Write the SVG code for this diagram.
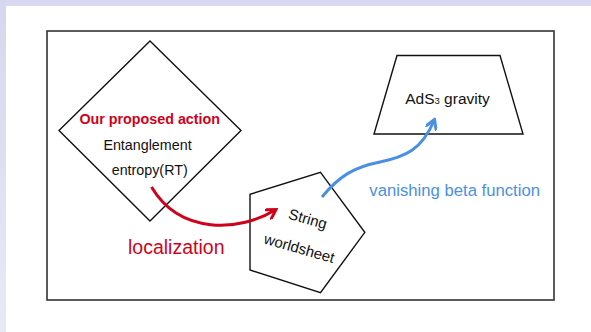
<svg xmlns="http://www.w3.org/2000/svg" width="591" height="332" viewBox="0 0 591 332">
  <defs>
    <linearGradient id="leftStrip" x1="0" y1="0" x2="0" y2="1">
      <stop offset="0" stop-color="#d6d6ef"/>
      <stop offset="1" stop-color="#e9e9f6"/>
    </linearGradient>
    <marker id="redHead" viewBox="0 0 12 12" refX="10" refY="6" markerWidth="12" markerHeight="12" markerUnits="userSpaceOnUse" orient="auto">
      <path d="M0,0 L10,6 L0,12" fill="none" stroke="#d0021b" stroke-width="3" stroke-linejoin="miter"/>
    </marker>
    <marker id="blueHead" viewBox="0 0 12 12" refX="10" refY="6" markerWidth="12" markerHeight="12" markerUnits="userSpaceOnUse" orient="auto">
      <path d="M0,0 L10,6 L0,12" fill="none" stroke="#4a90e2" stroke-width="3" stroke-linejoin="miter"/>
    </marker>
  </defs>
  <style>
    .shape { fill: none; stroke: #111; stroke-width: 1.4; stroke-linejoin: miter; }
    .txt { font-family: "Liberation Sans", Arial, sans-serif; fill: #111; }
    .red { fill: #d0021b; }
    .blue { fill: #4a90e2; }
  </style>

  <rect x="0" y="0" width="591" height="332" fill="#ffffff"/>
  <rect x="0" y="0" width="591" height="6" fill="#d8d8f0"/>
  <rect x="0" y="0" width="6" height="332" fill="url(#leftStrip)"/>

  <rect id="frame" x="47" y="31" width="507" height="269" fill="none" stroke="#333" stroke-width="1.6"/>

  <g id="node-rt">
    <polygon class="shape" points="150,41 241,130.5 150,221 59,130.5"/>
    <text class="txt red" x="149.7" y="124" font-size="14.3" font-weight="bold" text-anchor="middle">Our proposed action</text>
    <text class="txt" x="147.5" y="149.5" font-size="14.3" text-anchor="middle">Entanglement</text>
    <text class="txt" x="149.7" y="175" font-size="14.3" text-anchor="middle">entropy(RT)</text>
  </g>

  <g id="node-string">
    <polygon class="shape" points="320.5,172.3 364.8,232.3 320.5,292.7 250,270 250,194.3"/>
    <g transform="rotate(16 303.5 234)">
      <text class="txt" x="303.5" y="223.5" font-size="15" text-anchor="middle">String</text>
      <text class="txt" x="303.5" y="254" font-size="15" text-anchor="middle">worldsheet</text>
    </g>
  </g>

  <g id="node-ads">
    <polygon class="shape" points="397,55.5 500,55.5 523,134 374,134"/>
    <text class="txt" x="447.5" y="103.5" font-size="15.5" text-anchor="middle">AdS<tspan font-size="9.5">3</tspan> gravity</text>
  </g>

  <g id="connectors">
    <path d="M151.5,187 C180,235 240,232 276,209.5" fill="none" stroke="#d0021b" stroke-width="3" marker-end="url(#redHead)"/>
    <path d="M322,197 C340,175 355,167 380,162 C405,157 422,150 434.5,119.5" fill="none" stroke="#4a90e2" stroke-width="3" marker-end="url(#blueHead)"/>
  </g>

  <g id="labels">
    <text class="txt red" x="128" y="254" font-size="19.5">localization</text>
    <text class="txt blue" x="369.3" y="196" font-size="16.7">vanishing beta function</text>
  </g>
</svg>
